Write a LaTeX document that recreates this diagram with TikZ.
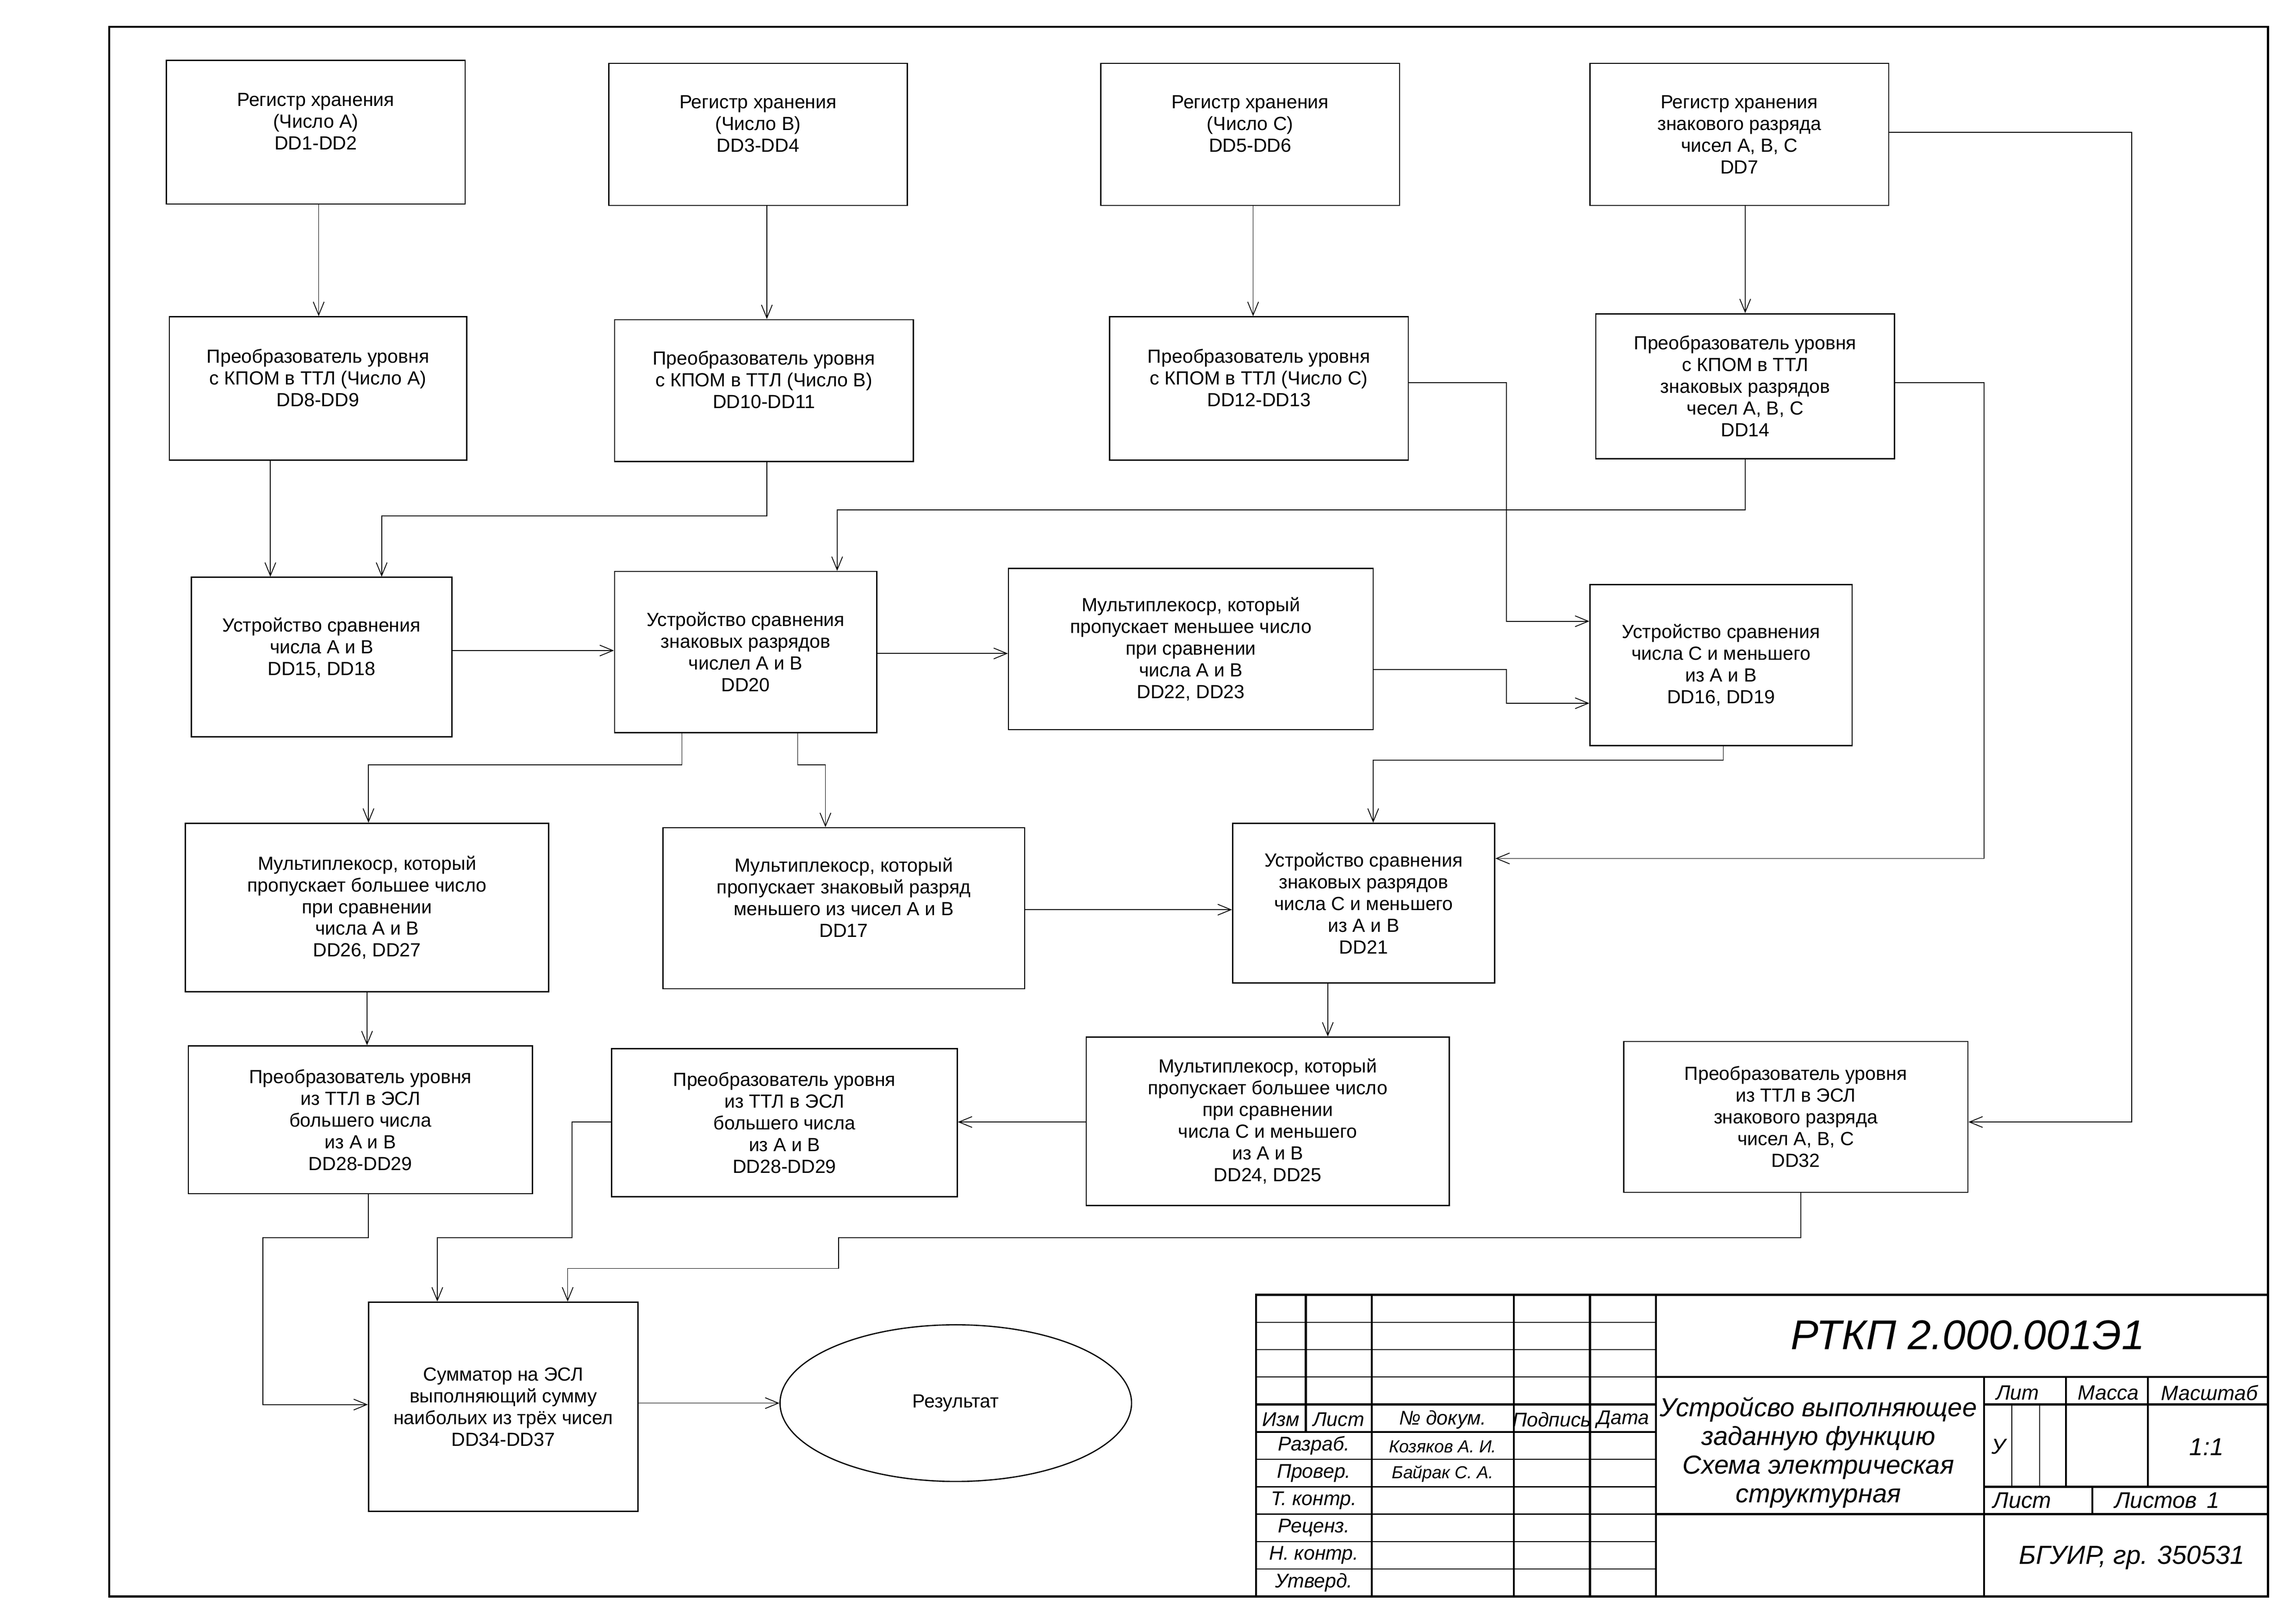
\documentclass[tikz,border=0pt]{standalone}
\usepackage{fontspec}
\setmainfont{Liberation Sans}
\usetikzlibrary{arrows.meta,shapes.geometric}

\newcommand{\pxu}{0.18945mm}
% block: name, x1, y1, x2, y2, text
\newcommand{\dblock}[6]{%
  \node[blk, minimum width={(#4-#2)*\pxu}, minimum height={(#5-#3)*\pxu}]
    (#1) at ({(#2+#4)/2},{(#3+#5)/2}) {#6};}

\tikzset{
  blk/.style={draw, line width=0.45pt, align=center, inner sep=0pt,
    font=\fontsize{7}{8}\selectfont},
  link/.style={line width=0.3pt, -{Straight Barb[length=1.7mm,width=1.4mm]}},
  thickln/.style={line width=0.75pt},
  thinln/.style={line width=0.4pt},
  hair/.style={line width=0.25pt},
  stamp/.style={inner sep=0pt, font=\itshape\fontsize{7.3}{8}\selectfont},
}

\begin{document}
\begin{tikzpicture}[x=\pxu, y=-\pxu]

\path[use as bounding box, fill=white] (0.4,-0.3) rectangle (1568.1,1108.8);
\draw[thickln] (75,18) rectangle (1549,1090);

% registers
\dblock{regA}{114}{41}{318}{139}{Регистр хранения\\(Число А)\\DD1-DD2\\ \mbox{}}
\dblock{regB}{416}{43}{620}{140}{Регистр хранения\\(Число В)\\DD3-DD4\\ \mbox{}}
\dblock{regC}{752}{43}{956}{140}{Регистр хранения\\(Число С)\\DD5-DD6\\ \mbox{}}
\dblock{regS}{1086}{43}{1290}{140}{Регистр хранения\\знакового разряда\\чисел А, В, С\\DD7}

% level converters
\dblock{cnvA}{116}{216}{319}{314}{Преобразователь уровня\\с КПОМ в ТТЛ (Число А)\\DD8-DD9\\ \mbox{}}
\dblock{cnvB}{420}{218}{624}{315}{Преобразователь уровня\\с КПОМ в ТТЛ (Число В)\\DD10-DD11\\ \mbox{}}
\dblock{cnvC}{758}{216}{962}{314}{Преобразователь уровня\\с КПОМ в ТТЛ (Число С)\\DD12-DD13\\ \mbox{}}
\dblock{cnvS}{1090}{214}{1294}{313}{Преобразователь уровня\\с КПОМ в ТТЛ\\знаковых разрядов\\чесел А, В, С\\DD14}

% comparators and multiplexers
\dblock{cmpAB}{131}{394}{309}{503}{Устройство сравнения\\числа А и В\\DD15, DD18\\ \mbox{}}
\dblock{cmpSAB}{420}{390}{599}{500}{Устройство сравнения\\знаковых разрядов\\числел А и В\\DD20}
\dblock{muxMin}{689}{388}{938}{498}{Мультиплекоср, который\\пропускает меньшее число\\при сравнении\\числа А и В\\DD22, DD23}
\dblock{cmpC}{1086}{399}{1265}{509}{Устройство сравнения\\числа С и меньшего\\из А и В\\DD16, DD19}
\dblock{muxMax}{127}{562}{375}{677}{Мультиплекоср, который\\пропускает большее число\\при сравнении\\числа А и В\\DD26, DD27}
\dblock{muxSgn}{453}{565}{700}{675}{Мультиплекоср, который\\пропускает знаковый разряд\\меньшего из чисел А и В\\DD17\\ \mbox{}}
\dblock{cmpSC}{842}{562}{1021}{671}{Устройство сравнения\\знаковых разрядов\\числа С и меньшего\\из А и В\\DD21}

% output stage
\dblock{eslAB}{129}{714}{364}{815}{Преобразователь уровня\\из ТТЛ в ЭСЛ\\большего числа\\из А и В\\DD28-DD29}
\dblock{eslMax}{418}{716}{654}{817}{Преобразователь уровня\\из ТТЛ в ЭСЛ\\большего числа\\из А и В\\DD28-DD29}
\dblock{muxMaxC}{742}{708}{990}{823}{Мультиплекоср, который\\пропускает большее число\\при сравнении\\числа С и меньшего\\из А и В\\DD24, DD25}
\dblock{eslS}{1109}{711}{1344}{814}{Преобразователь уровня\\из ТТЛ в ЭСЛ\\знакового разряда\\чисел А, В, С\\DD32}
\dblock{sum}{252}{889}{436}{1032}{Сумматор на ЭСЛ\\выполняющий сумму\\наибольих из трёх чисел\\DD34-DD37}
\node[draw, ellipse, line width=0.45pt, inner sep=0pt, minimum width=240*\pxu,
  minimum height=107*\pxu, font=\fontsize{7}{8}\selectfont] (res) at (653,958) {Результат};

% connections
\draw[link] (regA.south -| 218,0) -- (cnvA.north -| 218,0);
\draw[link] (regB.south -| 524,0) -- (cnvB.north -| 524,0);
\draw[link] (regC.south -| 856,0) -- (cnvC.north -| 856,0);
\draw[link] (regS.south -| 1192,0) -- (cnvS.north -| 1192,0);
\draw[link] (regS.east |- 0,90) -| (1456,766) -- (eslS.east |- 0,766);
\draw[link] (cnvA.south -| 185,0) -- (cmpAB.north -| 185,0);
\draw[link] (cnvB.south -| 524,0) |- (261,352) -- (cmpAB.north -| 261,0);
\draw[link] (cnvC.east |- 0,261) -| (1029,424) -- (cmpC.west |- 0,424);
\draw[link] (cnvS.south -| 1192,0) |- (572,348) -- (cmpSAB.north -| 572,0);
\draw[link] (cnvS.east |- 0,261) -| (1355,586) -- (cmpSC.east |- 0,586);
\draw[link] (cmpAB.east |- 0,444) -- (cmpSAB.west |- 0,444);
\draw[link] (cmpSAB.east |- 0,446) -- (muxMin.west |- 0,446);
\draw[link] (muxMin.east |- 0,457) -| (1029,480) -- (cmpC.west |- 0,480);
\draw[link] (cmpSAB.south -| 466,0) |- (252,522) -- (muxMax.north -| 252,0);
\draw[link] (cmpSAB.south -| 545,0) |- (564,522) -- (muxSgn.north -| 564,0);
\draw[link] (cmpC.south -| 1177,0) |- (938,519) -- (cmpSC.north -| 938,0);
\draw[link] (muxSgn.east |- 0,621) -- (cmpSC.west |- 0,621);
\draw[link] (muxMax.south -| 251,0) -- (eslAB.north -| 251,0);
\draw[link] (cmpSC.south -| 907,0) -- (muxMaxC.north -| 907,0);
\draw[link] (muxMaxC.west |- 0,766) -- (eslMax.east |- 0,766);
\draw[link] (eslAB.south -| 252,0) |- (180,845) |- (sum.west |- 0,959);
\draw[link] (eslMax.west |- 0,766) -| (391,845) -| (sum.north -| 299,0);
\draw[link] (eslS.south -| 1230,0) |- (573,845) |- (388,866) -- (sum.north -| 388,0);
\draw[link] (sum.east |- res.west) -- (res.west);

% title block
\def\rowh{18.73}
\draw[thickln] (858,1090) -- (858,884) -- (1549,884);
\foreach \k in {1,2,3,6,7,8,9,10}
  \draw[thinln] (858,{884+\k*\rowh}) -- (1131,{884+\k*\rowh});
\foreach \k in {4,5}
  \draw[thickln] (858,{884+\k*\rowh}) -- (1131,{884+\k*\rowh});
\draw[thickln] (892,884) -- (892,{884+5*\rowh});
\foreach \x in {937,1034,1086,1131}
  \draw[thickln] (\x,884) -- (\x,1090);

\draw[thickln] (1131,{884+3*\rowh}) -- (1549,{884+3*\rowh});
\draw[thickln] (1131,{884+8*\rowh}) -- (1549,{884+8*\rowh});
\draw[thickln] (1355,{884+3*\rowh}) -- (1355,1090);
\draw[thickln] (1355,{884+4*\rowh}) -- (1549,{884+4*\rowh});
\draw[thickln] (1355,{884+7*\rowh}) -- (1549,{884+7*\rowh});
\foreach \x in {1411,1467}
  \draw[thickln] (\x,{884+3*\rowh}) -- (\x,{884+7*\rowh});
\draw[thickln] (1429,{884+7*\rowh}) -- (1429,{884+8*\rowh});
\foreach \x in {1374,1393}
  \draw[hair] (\x,{884+4*\rowh}) -- (\x,{884+7*\rowh});

\foreach \x/\t [count=\i] in {875/Изм, 914.5/Лист, 985.5/№ докум., 1060/Подпись, 1108.5/Дата}
  \node[stamp] (head\i) at (\x,969.3) {\t};
\foreach \t [count=\k from 5] in {Разраб., Провер., Т. контр., Реценз., Н. контр., Утверд.}
  \node[stamp] (role\k) at (897.5,{884+(\k+0.5)*\rowh}) {\t};
\node[stamp, font=\itshape\fontsize{6.4}{7}\selectfont] (dev) at (985.5,987.7) {Козяков А. И.};
\node[stamp, font=\itshape\fontsize{6.4}{7}\selectfont] (chk) at (985.5,1006.4) {Байрак С. А.};

\node[stamp, font=\itshape\fontsize{15.3}{17}\selectfont] (code) at (1344,911.5) {РТКП 2.000.001Э1};
\node[stamp, align=center, font=\itshape\fontsize{9.6}{10.6}\selectfont] (title) at (1242,991.8)
  {Устройсво выполняющее\\заданную функцию\\Схема электрическая\\структурная};
\foreach \x/\t [count=\i] in {1378/Лит, 1440/Масса, 1509/Масштаб}
  \node[stamp, font=\itshape\fontsize{7.6}{9}\selectfont] (col\i) at (\x,951) {\t};
\node[stamp, font=\itshape\fontsize{8}{9}\selectfont] (lit) at (1365,987.8) {У};
\node[stamp, font=\itshape\fontsize{9}{10}\selectfont] (scale) at (1507,988) {1:1};
\node[stamp, anchor=west, font=\itshape\fontsize{8.3}{9}\selectfont] (sheet) at (1361,1024.5) {Лист};
\node[stamp, anchor=west, font=\itshape\fontsize{8.3}{9}\selectfont] (sheets) at (1444,1024.5) {Листов};
\node[stamp, font=\itshape\fontsize{8.3}{9}\selectfont] (nsheets) at (1511.5,1024.5) {1};
\node[stamp, font=\itshape\fontsize{9.6}{11}\selectfont] (org) at (1456,1063.5) {БГУИР, гр. 350531};

\end{tikzpicture}
\end{document}
